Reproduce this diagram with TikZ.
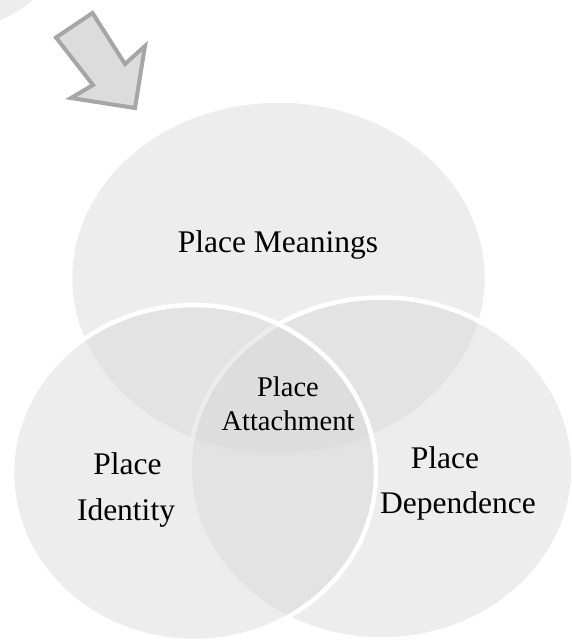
\documentclass[tikz,border=0pt]{standalone}
\usepackage{fontspec}
\setmainfont{Liberation Serif}
\definecolor{bubblegray}{RGB}{214,214,214}
\definecolor{arrowfill}{RGB}{220,220,220}
\definecolor{arrowline}{RGB}{166,166,166}
\begin{document}
\begin{tikzpicture}[x=1pt,y=-1pt,
  bubble/.style={fill=bubblegray, fill opacity=0.444, draw=white, line width=4.5pt},
  bigtext/.style={anchor=base, inner sep=0pt, text=black, font=\fontsize{31.5}{38}\selectfont},
  midtext/.style={anchor=base, inner sep=0pt, text=black, font=\fontsize{28.5}{34}\selectfont},
  blockarrow/.style={fill=arrowfill, draw=arrowline, line width=4pt, line join=miter}]
\useasboundingbox (0,0) rectangle (572,641);

% corner of a further bubble, cut by the page edge
\begin{scope}
  \clip (0,0) rectangle (572,641);
  \fill[bubblegray, fill opacity=0.444] (-44,-86) circle[radius=115pt];
\end{scope}

% block arrow pointing into the diagram
\draw[blockarrow] (56,37.5) -- (92.5,13) -- (125,64) -- (145,46) -- (135,108)
  -- (71,98) -- (93,85) -- cycle;

% three overlapping bubbles: meanings, dependence, identity
\draw[bubble] (278.5,278) ellipse [x radius=208.5pt, y radius=177.5pt];
\draw[bubble] (381.5,468.5) ellipse [x radius=192pt, y radius=171pt];
\draw[bubble] (194,473) ellipse [x radius=182pt, y radius=168pt];

% labels
\node[bigtext] (meanings) at (278,252) {Place Meanings};
\node[midtext] (attachA) at (288,396) {Place};
\node[midtext] (attachB) at (288,430) {Attachment};
\node[bigtext] (identA) at (127.5,474) {Place};
\node[bigtext] (identB) at (126,520) {Identity};
\node[bigtext] (dependA) at (445,468) {Place};
\node[bigtext] (dependB) at (458,513) {Dependence};
\end{tikzpicture}
\end{document}
